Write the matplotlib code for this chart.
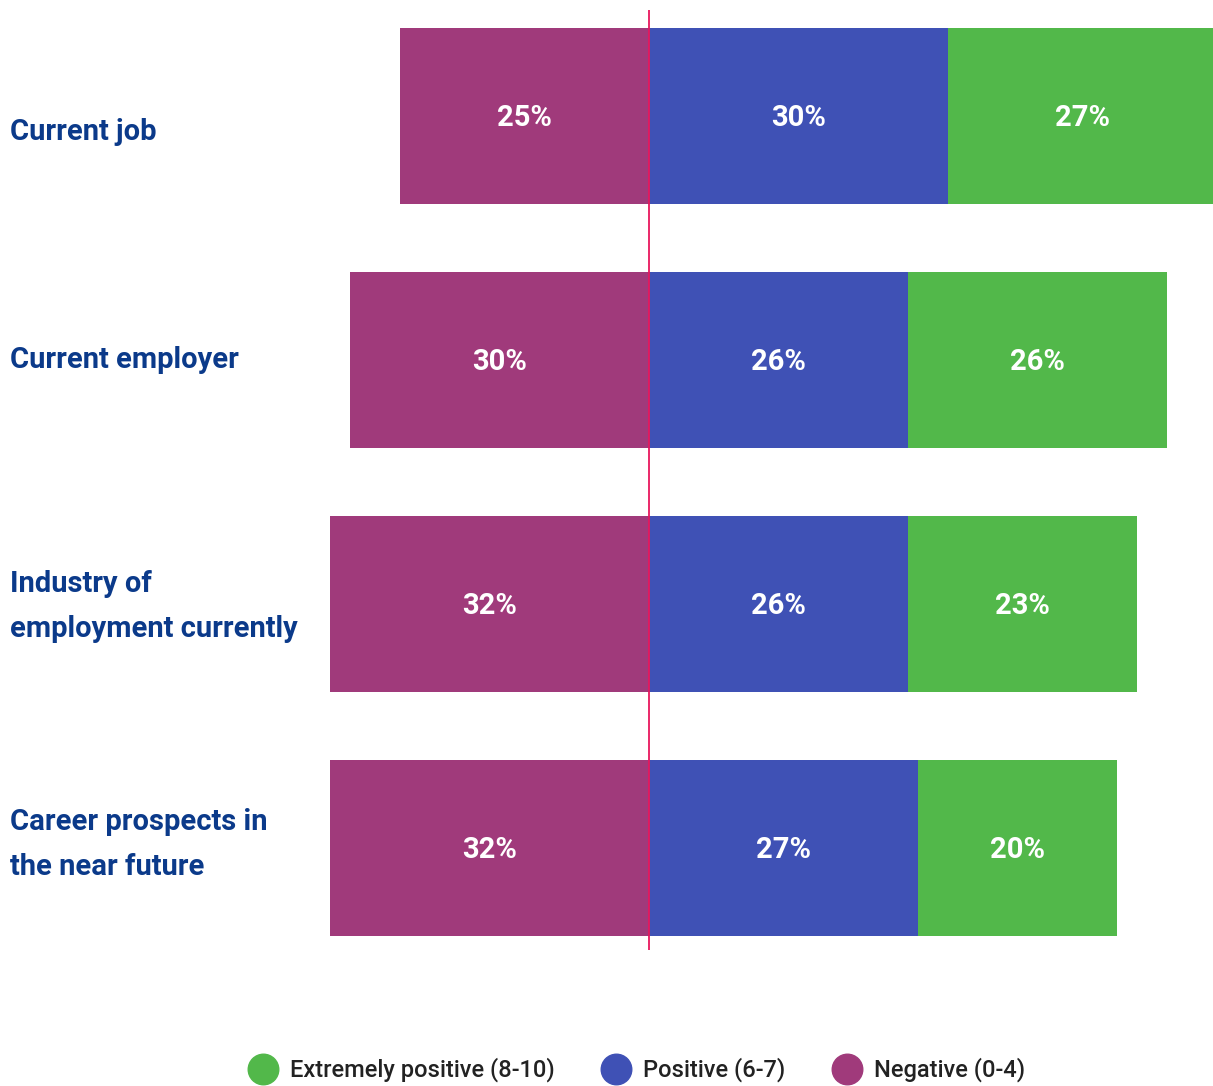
import matplotlib.pyplot as plt
from matplotlib.lines import Line2D

# survey sentiment by topic (% of respondents)
topics = ["Current job", "Current employer", "Industry of\nemployment currently",
          "Career prospects in\nthe near future"]
negative = [25, 30, 32, 32]
positive = [30, 26, 26, 27]
extremely_positive = [27, 26, 23, 20]

legend_labels = ["Extremely positive (8-10)", "Positive (6-7)", "Negative (0-4)"]

C_NEG = "#a03a7b"
C_POS = "#3f51b5"
C_EXT = "#52b84a"
C_LINE = "#e8175d"
C_LABEL = "#0b3a8a"

plt.rcParams["font.family"] = ["Roboto", "DejaVu Sans"]

fig = plt.figure(figsize=(12.13, 10.86), dpi=100)
ax = fig.add_axes([0, 0, 1, 1])

y = list(range(len(topics)))
h = 0.72

ax.barh(y, [-v for v in negative], height=h, color=C_NEG, linewidth=0)
ax.barh(y, positive, height=h, color=C_POS, linewidth=0)
ax.barh(y, extremely_positive, left=positive, height=h, color=C_EXT, linewidth=0)

ax.vlines(0, -0.434, 3.418, color=C_LINE, linewidth=1.3, zorder=5)

# value labels in the middle of each segment
for i in y:
    ax.text(-negative[i] / 2, i + 0.01, f"{negative[i]}%", color="white",
            fontsize=21, fontweight="bold", ha="center", va="center")
    ax.text(positive[i] / 2, i + 0.01, f"{positive[i]}%", color="white",
            fontsize=21, fontweight="bold", ha="center", va="center")
    ax.text(positive[i] + extremely_positive[i] / 2, i + 0.01,
            f"{extremely_positive[i]}%", color="white",
            fontsize=21, fontweight="bold", ha="center", va="center")

# category names on the left edge of the figure
label_shift = [0.065, 0.0, 0.01, -0.015]
for i, name in enumerate(topics):
    ax.text(10 / 1213, i + label_shift[i], name, transform=ax.get_yaxis_transform(),
            color=C_LABEL, fontsize=21, fontweight="bold", ha="left", va="center",
            linespacing=1.75)

ax.set_xlim(-65.1, 56.6)
ax.set_ylim(3.975, -0.475)
ax.axis("off")

handles = [Line2D([], [], marker="o", linestyle="", markersize=22, color=c)
           for c in (C_EXT, C_POS, C_NEG)]
fig.legend(handles, legend_labels, loc="center", bbox_to_anchor=(0.525, 0.0147),
           ncol=3, frameon=False, prop={"size": 17, "weight": "medium"},
           labelcolor="#222222", handletextpad=0.55, columnspacing=2.0,
           handlelength=1.2)

fig.savefig("out.png", dpi=100)
